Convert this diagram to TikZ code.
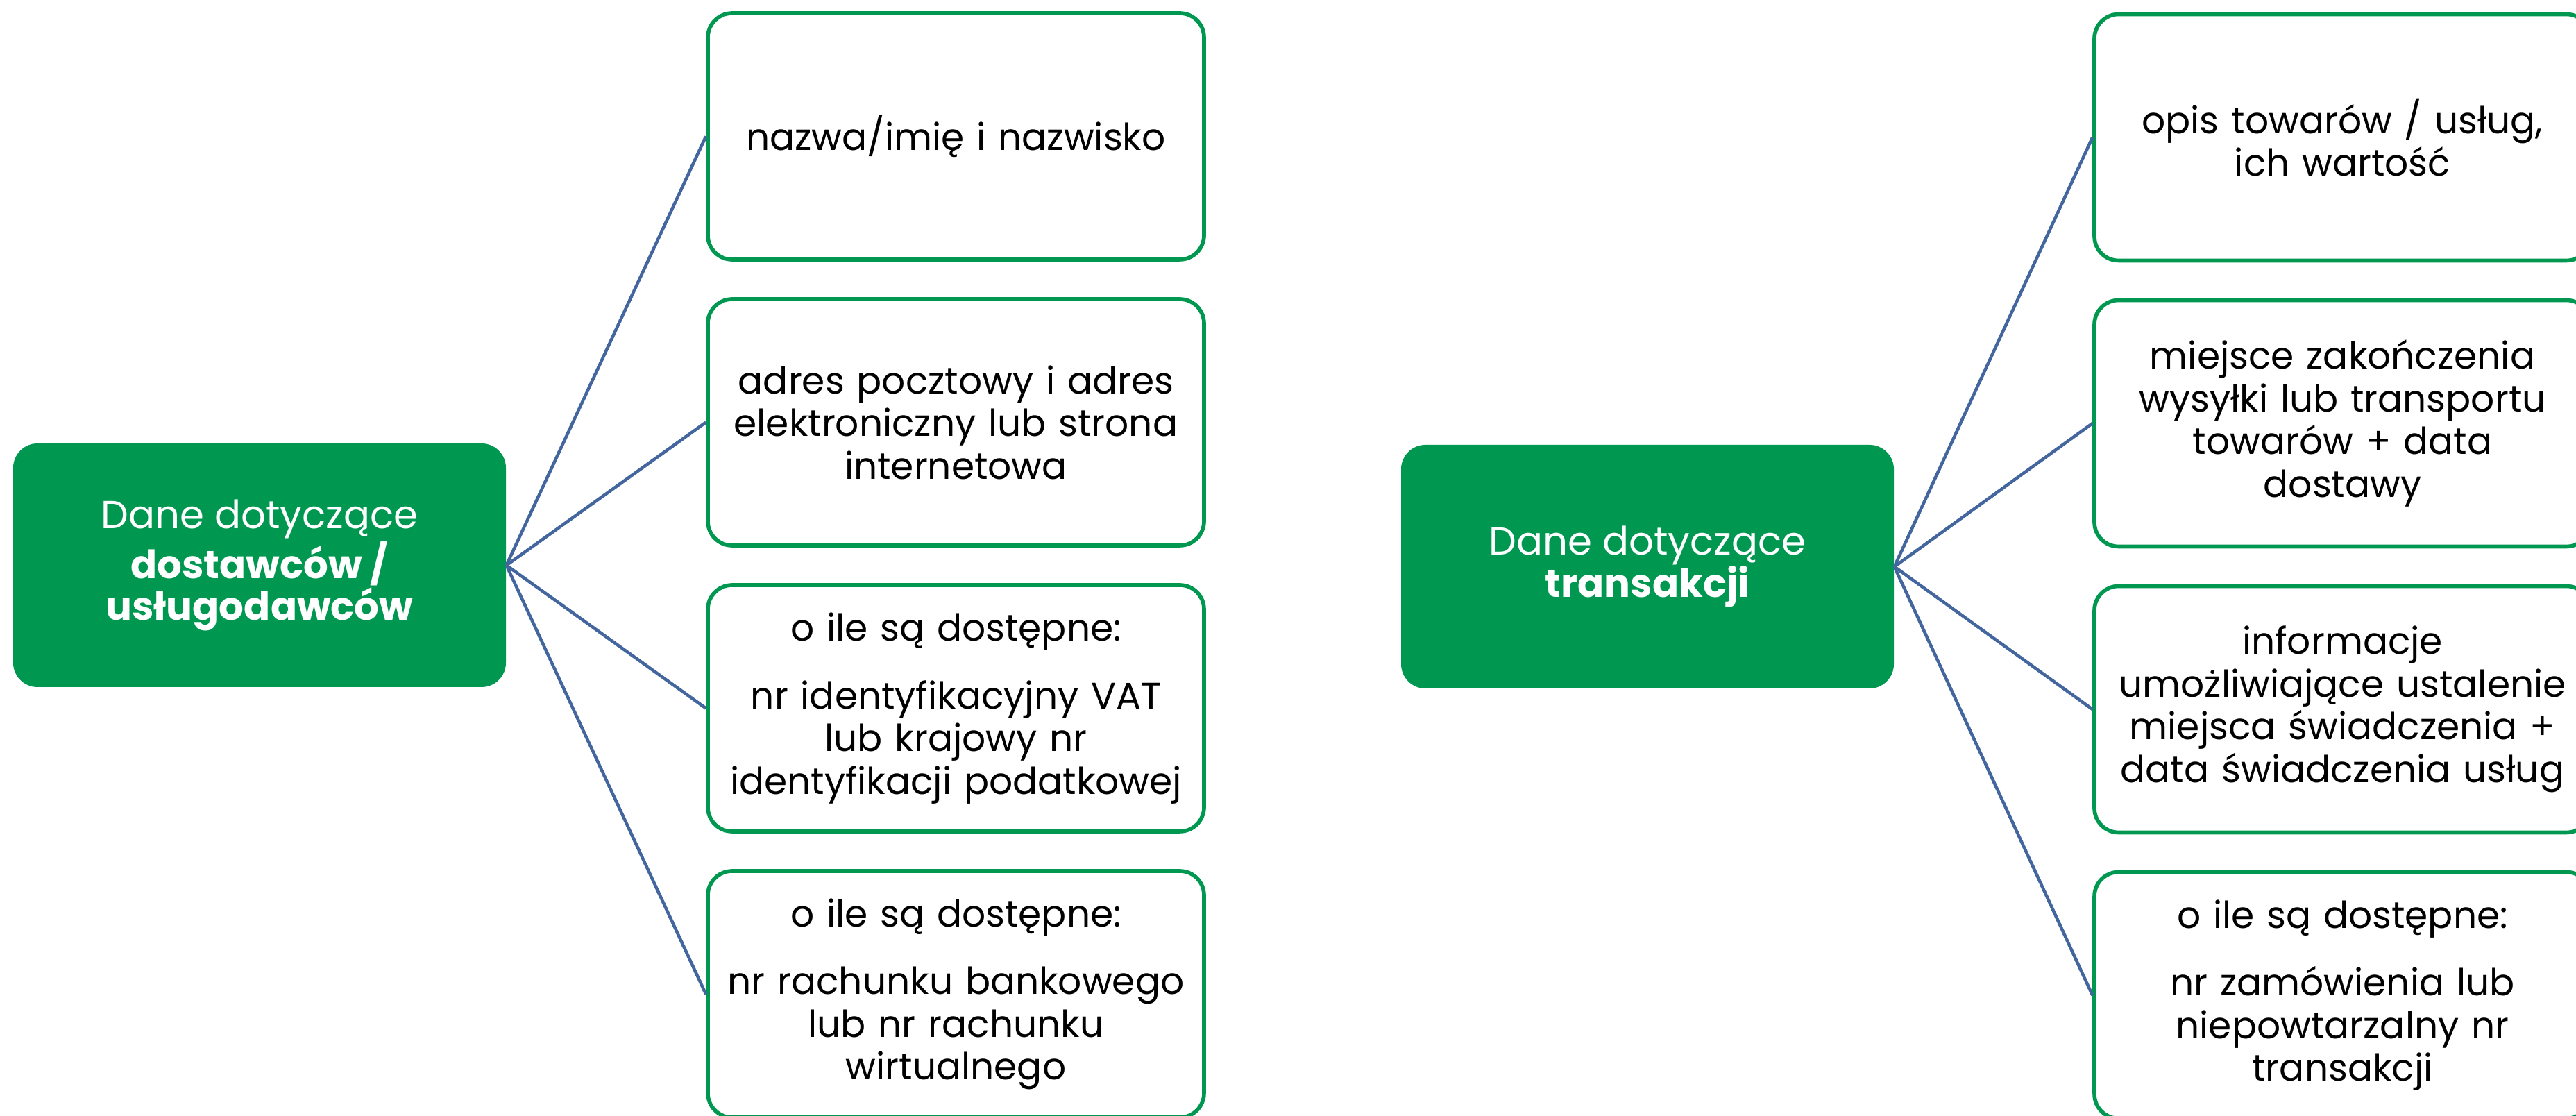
\documentclass[tikz,border=0pt]{standalone}
\usepackage{fontspec}
\setmainfont{Poppins}
\definecolor{boxgreen}{RGB}{0,152,80}
\definecolor{linkblue}{RGB}{68,102,158}
\tikzset{
  mainbox/.style={draw=none, fill=boxgreen, rounded corners=0.35cm, text=white,
    minimum width=7.1cm, minimum height=3.51cm, inner sep=0pt, align=center,
    font=\fontsize{16}{17.2}\selectfont},
  itembox/.style={draw=boxgreen, line width=1.6pt, fill=white, rounded corners=0.35cm,
    text width=7.15cm, minimum height=3.55cm, inner sep=0pt, align=center,
    font=\fontsize{15.2}{17.5}\selectfont},
  link/.style={draw=linkblue, line width=1.3pt}
}
\newcommand{\gapline}{\\[0.36cm]}
\begin{document}
\begin{tikzpicture}
\useasboundingbox (0,0) rectangle (37.12,16.08);
\clip (0,0) rectangle (37.12,16.08);
% left group
\node[mainbox] (lm) at (3.74,7.935) {Dane dotyczące\\\textbf{dostawców /}\\\textbf{usługodawców}};
\node[itembox] (l1) at (13.775,14.115) {nazwa/imię i nazwisko};
\node[itembox] (l2) at (13.775,9.995) {adres pocztowy i adres\\elektroniczny lub strona\\internetowa};
\node[itembox] (l3) at (13.775,5.875) {o ile są dostępne:\gapline nr identyfikacyjny VAT\\lub krajowy nr\\identyfikacji podatkowej};
\node[itembox] (l4) at (13.775,1.755) {o ile są dostępne:\gapline nr rachunku bankowego\\lub nr rachunku\\wirtualnego};
% right group
\node[mainbox] (rm) at (23.74,7.915) {Dane dotyczące\\\textbf{transakcji}};
\node[itembox] (r1) at (33.755,14.10) {opis towarów / usług,\\ich wartość};
\node[itembox] (r2) at (33.755,9.98) {miejsce zakończenia\\wysyłki lub transportu\\towarów + data\\dostawy};
\node[itembox] (r3) at (33.755,5.86) {informacje\\umożliwiające ustalenie\\miejsca świadczenia +\\data świadczenia usług};
\node[itembox] (r4) at (33.755,1.74) {o ile są dostępne:\gapline nr zamówienia lub\\niepowtarzalny nr\\transakcji};
% connectors
\foreach \n in {l1,l2,l3,l4} \draw[link] (lm.east) -- (\n.west);
\foreach \n in {r1,r2,r3,r4} \draw[link] (rm.east) -- (\n.west);
\end{tikzpicture}
\end{document}
